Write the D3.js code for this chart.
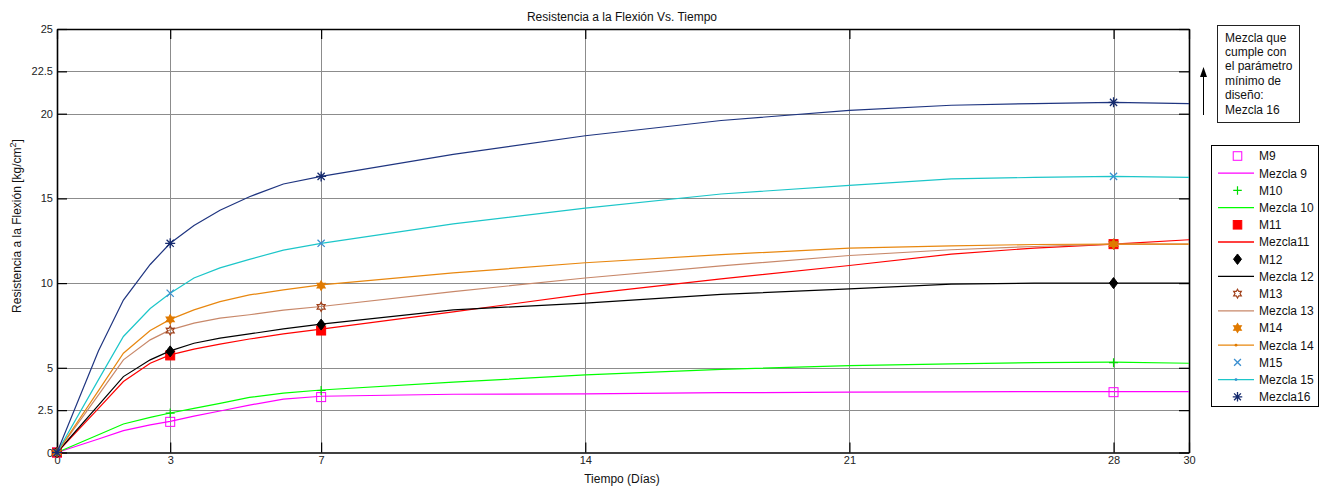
<!DOCTYPE html>
<html>
<head>
<meta charset="utf-8">
<script src="https://cdn.jsdelivr.net/npm/d3@7"></script>
<style>
  html, body { margin: 0; padding: 0; background: #fff; }
  svg { display: block; font-family: "Liberation Sans", Arial, sans-serif; }
</style>
</head>
<body>
<svg id="chart" width="1327" height="487"></svg>
<script>
// Flexural strength (kg/cm²) against curing time (days) for mixes 9–16.

// Days where each mix was tested (markers)
const testDays = [0, 3, 7, 28];
// Days of the fitted curve samples
const curveDays = [0, 1.1, 1.76, 2.47, 3, 3.63, 4.32, 5.1, 6, 7, 10.5, 14, 17.6, 21, 23.7, 25.9, 28, 30];

// Measured values at testDays
const m9  = [0, 1.81, 3.27, 3.56];
const m10 = [0, 2.33, 3.66, 5.30];
const m11 = [0, 5.73, 7.20, 12.30];
const m12 = [0, 5.97, 7.55, 10.00];
const m13 = [0, 7.20, 8.60, 12.30];
const m14 = [0, 7.86, 9.85, 12.30];
const m15 = [0, 9.40, 12.35, 16.30];
const m16 = [0, 12.35, 16.30, 20.67];

// Curve values at curveDays
const mezcla9  = [0, 0.80, 1.29, 1.63, 1.84, 2.15, 2.45, 2.80, 3.15, 3.32, 3.44, 3.46, 3.53, 3.56, 3.58, 3.59, 3.59, 3.59];
const mezcla10 = [0, 1.05, 1.68, 2.07, 2.33, 2.60, 2.90, 3.25, 3.50, 3.69, 4.15, 4.58, 4.91, 5.13, 5.23, 5.31, 5.33, 5.27];
const mezcla11 = [0, 2.60, 4.19, 5.27, 5.76, 6.10, 6.40, 6.70, 7.00, 7.28, 8.30, 9.35, 10.25, 11.04, 11.71, 12.07, 12.30, 12.56];
const mezcla12 = [0, 2.80, 4.48, 5.47, 6.00, 6.45, 6.75, 7.00, 7.30, 7.58, 8.42, 8.82, 9.33, 9.66, 9.94, 10.00, 10.00, 10.00];
const mezcla13 = [0, 3.40, 5.47, 6.65, 7.24, 7.64, 7.93, 8.13, 8.40, 8.62, 9.50, 10.30, 11.02, 11.63, 11.97, 12.16, 12.30, 12.30];
const mezcla14 = [0, 3.65, 5.86, 7.20, 7.86, 8.42, 8.91, 9.30, 9.60, 9.90, 10.60, 11.20, 11.68, 12.07, 12.20, 12.28, 12.30, 12.30];
const mezcla15 = [0, 4.30, 6.85, 8.50, 9.40, 10.30, 10.90, 11.40, 11.95, 12.35, 13.50, 14.43, 15.26, 15.77, 16.15, 16.24, 16.30, 16.24];
const mezcla16 = [0, 6.00, 9.00, 11.10, 12.35, 13.40, 14.30, 15.10, 15.85, 16.30, 17.60, 18.70, 19.60, 20.20, 20.50, 20.60, 20.67, 20.60];

const xTicks = [0, 3, 7, 14, 21, 28, 30];
const yTicks = [0, 2.5, 5, 10, 15, 20, 22.5, 25];
const xGrid = [3, 7, 14, 21, 28];
const yGrid = [2.5, 5, 10, 15, 20, 22.5];

const noteLines = ["Mezcla que", "cumple con", "el parámetro", "mínimo de", "diseño:", "Mezcla 16"];

// Series definitions: points, curve, colours and marker type
const series = [
  { mark: "M9",  line: "Mezcla 9",  pts: m9,  curve: mezcla9,  lc: "#ff00ff", mc: "#ff00ff", sym: "square",  fill: false },
  { mark: "M10", line: "Mezcla 10", pts: m10, curve: mezcla10, lc: "#00ff00", mc: "#00dd00", sym: "plus",    fill: false },
  { mark: "M11", line: "Mezcla11",  pts: m11, curve: mezcla11, lc: "#ff0000", mc: "#ff0000", sym: "square",  fill: true },
  { mark: "M12", line: "Mezcla 12", pts: m12, curve: mezcla12, lc: "#000000", mc: "#000000", sym: "diamond", fill: true },
  { mark: "M13", line: "Mezcla 13", pts: m13, curve: mezcla13, lc: "#c8886a", mc: "#a0401a", sym: "hexagram", fill: false, dot: false },
  { mark: "M14", line: "Mezcla 14", pts: m14, curve: mezcla14, lc: "#e8870f", mc: "#e07a00", sym: "hexagram", fill: true, dot: true },
  { mark: "M15", line: "Mezcla 15", pts: m15, curve: mezcla15, lc: "#1cc6c9", mc: "#3a8fd0", sym: "x",        fill: false, dot: true },
  { mark: null,  line: "Mezcla16",  pts: m16, curve: mezcla16, lc: "#1f3580", mc: "#152a6e", sym: "asterisk", fill: false }
];

const svg = d3.select("#chart");
const x = d3.scaleLinear().domain([0, 30]).range([57, 1189]);
const y = d3.scaleLinear().domain([0, 25]).range([452.5, 29]);

// Grid lines
const grid = svg.append("g").attr("stroke", "#8c8c8c").attr("stroke-width", 1);
grid.selectAll("line.gx").data(xGrid).join("line")
  .attr("x1", d => Math.round(x(d)) + 0.5).attr("x2", d => Math.round(x(d)) + 0.5)
  .attr("y1", y(25)).attr("y2", y(0));
grid.selectAll("line.gy").data(yGrid).join("line")
  .attr("y1", d => Math.round(y(d)) + 0.5).attr("y2", d => Math.round(y(d)) + 0.5)
  .attr("x1", x(0)).attr("x2", x(30));

// Axes with inward ticks on all four sides
const tickLen = 10;
const fmt = d => String(d);
const axB = svg.append("g").attr("transform", `translate(0,${y(0)})`)
  .call(d3.axisBottom(x).tickValues(xTicks).tickFormat(fmt).tickSizeInner(-tickLen).tickSizeOuter(0).tickPadding(4));
const axT = svg.append("g").attr("transform", `translate(0,${y(25)})`)
  .call(d3.axisTop(x).tickValues(xTicks).tickFormat("").tickSizeInner(-tickLen).tickSizeOuter(0));
const axL = svg.append("g").attr("transform", `translate(${x(0)},0)`)
  .call(d3.axisLeft(y).tickValues(yTicks).tickFormat(fmt).tickSizeInner(-tickLen).tickSizeOuter(0).tickPadding(4));
const axR = svg.append("g").attr("transform", `translate(${x(30)},0)`)
  .call(d3.axisRight(y).tickValues(yTicks).tickFormat("").tickSizeInner(-tickLen).tickSizeOuter(0));
[axB, axT, axL, axR].forEach(a => {
  a.select(".domain").attr("stroke", "#000").attr("stroke-width", 1.6);
  a.selectAll(".tick line").attr("stroke", "#000").attr("stroke-width", 1.2);
  a.selectAll("text").attr("font-size", 11).attr("fill", "#222").attr("font-family", "Liberation Sans, Arial, sans-serif");
});

// Marker drawing
function drawMarker(g, s, cx, cy, scale) {
  const k = scale || 1;
  const c = s.mc;
  if (s.sym === "square") {
    const h = 4.5 * k;
    g.append("rect").attr("x", cx - h).attr("y", cy - h).attr("width", 2 * h).attr("height", 2 * h)
      .attr("fill", s.fill ? c : "none").attr("stroke", c).attr("stroke-width", 1);
  } else if (s.sym === "diamond") {
    const w = 4.2 * k, h = 5.5 * k;
    g.append("path").attr("d", `M${cx},${cy - h}L${cx + w},${cy}L${cx},${cy + h}L${cx - w},${cy}Z`)
      .attr("fill", c).attr("stroke", c);
  } else if (s.sym === "plus") {
    const h = 4.5 * k;
    g.append("path").attr("d", `M${cx - h},${cy}H${cx + h}M${cx},${cy - h}V${cy + h}`)
      .attr("stroke", c).attr("stroke-width", 1.2).attr("fill", "none");
  } else if (s.sym === "x") {
    const h = 3.6 * k;
    g.append("path").attr("d", `M${cx - h},${cy - h}L${cx + h},${cy + h}M${cx - h},${cy + h}L${cx + h},${cy - h}`)
      .attr("stroke", c).attr("stroke-width", 1.3).attr("fill", "none");
  } else if (s.sym === "asterisk") {
    const h = 5 * k;
    const d = h * 0.72;
    g.append("path").attr("d",
      `M${cx - h},${cy}H${cx + h}M${cx},${cy - h}V${cy + h}M${cx - d},${cy - d}L${cx + d},${cy + d}M${cx - d},${cy + d}L${cx + d},${cy - d}`)
      .attr("stroke", c).attr("stroke-width", 1.3).attr("fill", "none");
  } else if (s.sym === "hexagram") {
    const ro = 4.6 * k, ri = 2.6 * k;
    const pts = d3.range(12).map(i => {
      const r = i % 2 === 0 ? ro : ri;
      const a = Math.PI / 6 * i - Math.PI / 2;
      return [cx + r * Math.cos(a), cy + r * Math.sin(a)];
    });
    g.append("path").attr("d", "M" + pts.join("L") + "Z")
      .attr("fill", s.fill ? c : "none").attr("stroke", c).attr("stroke-width", 1.2);
  }
}

// Curves and measured points
const plot = svg.append("g");
const lineGen = d3.line().x(d => x(d[0])).y(d => y(d[1]));
series.forEach(s => {
  const g = plot.append("g");
  g.append("path").datum(curveDays.map((d, i) => [d, s.curve[i]]))
    .attr("d", lineGen).attr("fill", "none").attr("stroke", s.lc).attr("stroke-width", 1.2);
  testDays.forEach((d, i) => drawMarker(g, s, x(d), y(s.pts[i]), 1));
});

// Title and axis labels
svg.append("text").attr("x", 622).attr("y", 21).attr("text-anchor", "middle")
  .attr("font-size", 12).attr("fill", "#111").text("Resistencia a la Flexión Vs. Tiempo");
svg.append("text").attr("x", 622).attr("y", 483).attr("text-anchor", "middle")
  .attr("font-size", 12).attr("fill", "#111").text("Tiempo (Días)");
const yl = svg.append("text").attr("transform", "translate(21,226) rotate(-90)").attr("text-anchor", "middle")
  .attr("font-size", 12).attr("fill", "#111");
yl.append("tspan").text("Resistencia a la Flexión [kg/cm");
yl.append("tspan").attr("dy", -5).attr("font-size", 9).text("2");
yl.append("tspan").attr("dy", 5).text("]");

// Legend
const legendEntries = [];
series.forEach(s => {
  if (s.mark) legendEntries.push({ type: "mark", s, label: s.mark });
  if (s.mark) legendEntries.push({ type: "line", s, label: s.line });
  else legendEntries.push({ type: "mark", s, label: s.line });
});
const lg = svg.append("g");
lg.append("rect").attr("x", 1211.5).attr("y", 145.5).attr("width", 107).attr("height", 261)
  .attr("fill", "#fff").attr("stroke", "#000").attr("stroke-width", 1);
const rowY = i => 156 + i * 17.2;
legendEntries.forEach((e, i) => {
  const cy = rowY(i);
  if (e.type === "mark") {
    drawMarker(lg, e.s, 1237.5, cy, 0.95);
  } else {
    lg.append("line").attr("x1", 1218).attr("x2", 1254).attr("y1", cy).attr("y2", cy)
      .attr("stroke", e.s.lc).attr("stroke-width", 1.3);
    if (e.s.dot) lg.append("circle").attr("cx", 1236).attr("cy", cy).attr("r", 1.4).attr("fill", e.s.mc);
  }
  lg.append("text").attr("x", 1259).attr("y", cy + 4.3).attr("font-size", 12).attr("fill", "#111").text(e.label);
});

// Note box and arrow
const nb = svg.append("g");
nb.append("rect").attr("x", 1217.5).attr("y", 25.5).attr("width", 82).attr("height", 97)
  .attr("fill", "#fff").attr("stroke", "#222").attr("stroke-width", 1);
noteLines.forEach((t, i) => {
  nb.append("text").attr("x", 1225).attr("y", 41.5 + i * 14.4).attr("font-size", 12).attr("fill", "#111").text(t);
});
nb.append("line").attr("x1", 1203.5).attr("x2", 1203.5).attr("y1", 115).attr("y2", 74)
  .attr("stroke", "#000").attr("stroke-width", 1);
nb.append("path").attr("d", "M1203.5,67 L1200,77 L1207,77 Z").attr("fill", "#000");
</script>
</body>
</html>
